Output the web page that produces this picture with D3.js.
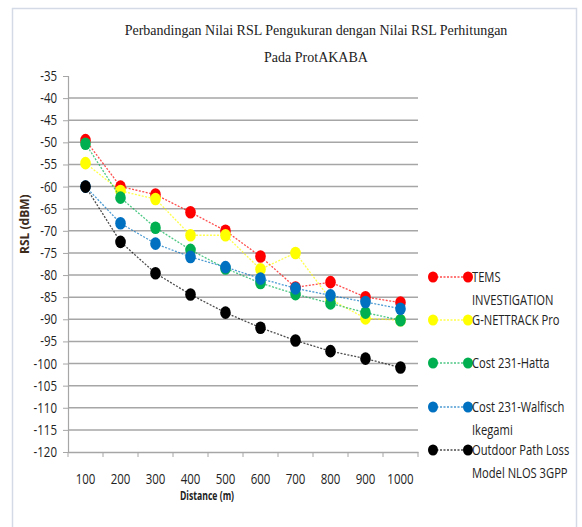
<!DOCTYPE html>
<html>
<head>
<meta charset="utf-8">
<script src="https://cdn.jsdelivr.net/npm/d3@7"></script>
<style>
  body { margin: 0; background: #fff; }
  svg { display: block; }
</style>
</head>
<body>
<div id="chart"></div>
<script>
// data
const distances = ['100', '200', '300', '400', '500', '600', '700', '800', '900', '1000'];
const yTicks = [-35, -40, -45, -50, -55, -60, -65, -70, -75, -80, -85, -90, -95, -100, -105, -110, -115, -120];

const tems = [-49.5, -60, -61.8, -65.8, -70, -75.8, -82.8, -81.6, -85, -86.2];
const gnettrack = [-54.7, -61, -62.8, -71, -71, -78.7, -75, -85.5, -89.8, -90.2];
const hatta = [-50.3, -62.5, -69.3, -74.3, -78.5, -81.8, -84.3, -86.4, -88.5, -90.2];
const walfisch = [-60, -68.3, -72.9, -75.9, -78.2, -80.8, -83, -84.6, -86.1, -87.6];
const nlos3gpp = [-60, -72.5, -79.6, -84.4, -88.5, -91.9, -94.8, -97.2, -98.9, -100.9];

const series = [
  { name: ['TEMS', 'INVESTIGATION'], values: tems, color: '#ff0000' },
  { name: ['G-NETTRACK Pro'], values: gnettrack, color: '#ffff00' },
  { name: ['Cost 231-Hatta'], values: hatta, color: '#00b050' },
  { name: ['Cost 231-Walfisch', 'Ikegami'], values: walfisch, color: '#0070c0' },
  { name: ['Outdoor Path Loss', 'Model NLOS 3GPP'], values: nlos3gpp, color: '#000000' }
];

const width = 582, height = 527;
const margin = { left: 68, right: 164, top: 76, bottom: 75 };
const labelFont = '"Open Sans", sans-serif';

// squeeze a text a little, like the narrow font of the original
const condense = (sel, k) => sel.each(function () {
  const w = this.getComputedTextLength();
  d3.select(this).attr('textLength', w * k).attr('lengthAdjust', 'spacingAndGlyphs');
});

const svg = d3.select('#chart').append('svg')
  .attr('width', width)
  .attr('height', height);

// frame
svg.append('path')
  .attr('d', 'M12.5,527 V8.5 H576.5 V527')
  .attr('fill', 'none')
  .attr('stroke', '#d5dbe6')
  .attr('stroke-width', 1.5);

// title
const title = svg.append('text')
  .attr('text-anchor', 'middle')
  .style('font-family', '"Liberation Serif", serif')
  .style('font-size', '14px')
  .attr('fill', '#222');
title.append('tspan').attr('x', 316).attr('y', 35).text('Perbandingan Nilai RSL Pengukuran dengan Nilai RSL Perhitungan');
title.append('tspan').attr('x', 316).attr('y', 62).text('Pada ProtAKABA');

const x = d3.scaleBand()
  .domain(distances)
  .range([margin.left, width - margin.right]);

const y = d3.scaleLinear()
  .domain([-120, -35])
  .range([height - margin.bottom, margin.top]);

// grid
svg.append('g')
  .selectAll('line')
  .data(yTicks.filter(t => t > -120 && t < -35))
  .join('line')
  .attr('x1', margin.left)
  .attr('x2', width - margin.right)
  .attr('y1', d => y(d))
  .attr('y2', d => y(d))
  .attr('stroke', '#a6a6a6')
  .attr('stroke-width', 1.5);

// y axis
const yAxis = svg.append('g')
  .attr('transform', `translate(${margin.left},0)`)
  .call(d3.axisLeft(y).tickValues(yTicks).tickFormat(d => String(d)).tickSize(5).tickPadding(6));
yAxis.select('.domain').attr('stroke', '#a6a6a6').attr('stroke-width', 1.2);
yAxis.selectAll('.tick line').attr('stroke', '#a6a6a6');
yAxis.selectAll('.tick text')
  .style('font-family', labelFont)
  .style('font-size', '14px')
  .attr('fill', '#222')
  .call(condense, 0.82);

// x axis
const xAxis = svg.append('g')
  .attr('transform', `translate(0,${height - margin.bottom})`)
  .call(d3.axisBottom(x).tickSize(0).tickPadding(22));
xAxis.select('.domain').attr('stroke', '#a6a6a6').attr('stroke-width', 1.5);
xAxis.selectAll('.tick text')
  .style('font-family', labelFont)
  .style('font-size', '14px')
  .attr('fill', '#222')
  .call(condense, 0.82);

// category boundary ticks
svg.append('g')
  .selectAll('line')
  .data(distances.concat(['end']))
  .join('line')
  .attr('x1', (d, i) => margin.left + i * x.step())
  .attr('x2', (d, i) => margin.left + i * x.step())
  .attr('y1', height - margin.bottom)
  .attr('y2', height - margin.bottom + 5)
  .attr('stroke', '#a6a6a6');

// axis titles
svg.append('text')
  .attr('transform', `translate(29,${y(-68.5)}) rotate(-90)`)
  .attr('text-anchor', 'middle')
  .style('font-family', labelFont)
  .style('font-size', '12px')
  .style('font-weight', 'bold')
  .attr('fill', '#3d2c1c')
  .text('RSL (dBM)');

svg.append('text')
  .attr('x', 207)
  .attr('y', 500)
  .attr('text-anchor', 'middle')
  .style('font-family', labelFont)
  .style('font-size', '12px')
  .style('font-weight', 'bold')
  .attr('fill', '#222')
  .text('Distance (m)')
  .call(condense, 0.72);

// lines and markers
const line = d3.line()
  .x((d, i) => x(distances[i]) + x.bandwidth() / 2)
  .y(d => y(d));

const groups = svg.append('g')
  .selectAll('g')
  .data(series)
  .join('g');

groups.append('path')
  .attr('d', d => line(d.values))
  .attr('fill', 'none')
  .attr('stroke', d => d.color)
  .attr('stroke-width', 1.3)
  .attr('stroke-dasharray', '2,1.5')
  .attr('opacity', 0.7);

groups.selectAll('ellipse')
  .data(d => d.values.map(v => ({ v, color: d.color })))
  .join('ellipse')
  .attr('cx', (d, i) => x(distances[i]) + x.bandwidth() / 2)
  .attr('cy', d => y(d.v))
  .attr('rx', 5.3)
  .attr('ry', 6.3)
  .attr('fill', d => d.color);

// legend
const legendY = [277, 320, 363, 407, 450];
const legend = svg.append('g')
  .selectAll('g')
  .data(series)
  .join('g')
  .attr('transform', (d, i) => `translate(0,${legendY[i]})`);

legend.append('line')
  .attr('x1', 433).attr('x2', 468)
  .attr('stroke', d => d.color)
  .attr('stroke-width', 1.3)
  .attr('stroke-dasharray', '2,1.5')
  .attr('opacity', 0.7);

legend.selectAll('ellipse')
  .data(d => [433, 468].map(cx => ({ cx, color: d.color })))
  .join('ellipse')
  .attr('cx', d => d.cx)
  .attr('rx', 5).attr('ry', 5.5)
  .attr('fill', d => d.color);

// narrow font look: squeeze the whole text horizontally
legend.append('g')
  .attr('transform', 'translate(472,0) scale(0.8,1)')
  .append('text')
  .style('font-family', labelFont)
  .style('font-size', '14px')
  .attr('fill', '#222')
  .selectAll('tspan')
  .data(d => d.name)
  .join('tspan')
  .attr('x', 0)
  .attr('y', (d, i) => 5 + i * 23)
  .text(d => d);
</script>
</body>
</html>
